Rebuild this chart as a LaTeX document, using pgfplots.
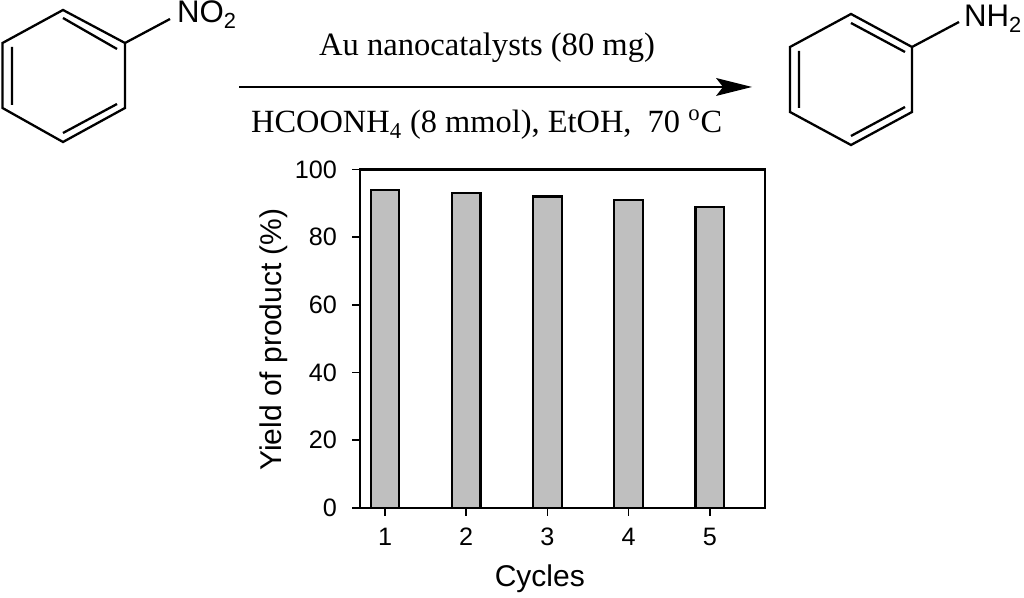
\documentclass[border=0pt]{standalone}
\usepackage{fontspec}
\setmainfont{Liberation Sans}
\newfontfamily\serifface{Liberation Serif}
\usepackage{pgfplots}
\pgfplotsset{compat=1.18}
\begin{document}
\begin{tikzpicture}
\path[use as bounding box] (0,0) rectangle (512pt,299pt);
% reaction scheme, coordinates are pixels of the reference (y down)
\begin{scope}[shift={(0,299pt)},x=0.5pt,y=-0.5pt,line width=1.15pt,line join=miter]
\draw (63,10)--(125,43)--(125,108)--(63,142)--(2.5,108)--(2.5,43)--cycle;
\draw (125,43)--(170,19);
\draw (63,18)--(117,49) (117,104)--(63,133) (12,47)--(12,105);
\node[anchor=base west,inner sep=0pt,font=\fontsize{15.6}{18}\selectfont] at (176,23) {NO\textsubscript{2}};
\draw (851,14)--(912,47)--(912,112)--(851,145)--(790,112)--(790,47)--cycle;
\draw (912,47)--(959,22);
\draw (851,23)--(905,52) (905,107)--(851,136) (799,51)--(799,108);
\node[anchor=base west,inner sep=0pt,font=\fontsize{15.6}{18}\selectfont] at (963,27) {NH\textsubscript{2}};
\draw[line width=1.3pt] (239,87)--(725,87);
\fill (752,87)--(716,78)--(723,87)--(716,96)--cycle;
\node[anchor=base,inner sep=0pt,font=\serifface\fontsize{16.3}{19}\selectfont] at (487,56) {Au nanocatalysts (80 mg)};
\node[anchor=base west,inner sep=0pt,font=\serifface\fontsize{16.2}{19}\selectfont] at (250,133) {HCOONH\textsubscript{4} (8 mmol), EtOH,\ \ 70 \textsuperscript{o}C};
\end{scope}
\begin{axis}[
  at={(180pt,45.15pt)}, anchor=south west,
  scale only axis, width=202.5pt, height=169.1pt,
  ybar, bar width=0.35,
  xmin=0.692, xmax=5.68, ymin=0, ymax=100,
  xtick={1,2,3,4,5}, ytick={0,20,40,60,80,100},
  tick align=outside, tick pos=left,
  major tick length=4pt,
  axis line style={line width=1.1pt},
  every tick/.style={black,line width=0.9pt},
  tick label style={font=\fontsize{12.6}{15}\selectfont},
  xticklabel style={yshift=-2.5pt},
  yticklabel style={xshift=-4pt},
  /pgf/number format/assume math mode=true,
  xlabel={Cycles}, ylabel={Yield of product (\%)},
  label style={font=\fontsize{15}{17}\selectfont},
  xlabel style={at={(axis description cs:0.444,-0.234)},anchor=base},
  ylabel style={at={(axis description cs:-0.195,0.497)},anchor=base},
]
\addplot[fill=black!25, draw=black, line width=1.1pt] coordinates {
  (1,93.9) (2,93) (3,92) (4,91) (5,89)};
\end{axis}
\end{tikzpicture}
\end{document}
